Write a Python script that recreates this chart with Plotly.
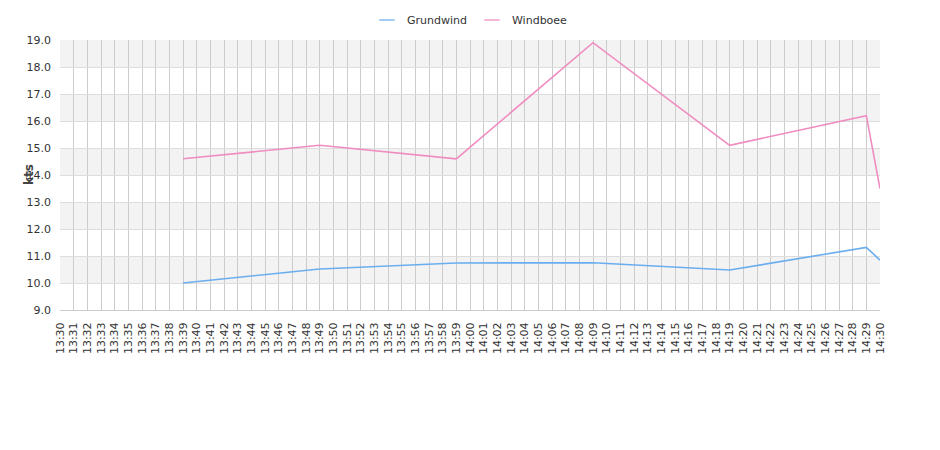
import plotly.graph_objects as go

times = ["13:39", "13:49", "13:59", "14:09", "14:19", "14:29", "14:30"]
grundwind = [10.0, 10.52, 10.74, 10.75, 10.48, 11.32, 10.85]
windboee = [14.6, 15.1, 14.6, 18.9, 15.1, 16.2, 13.5]
y_ticks = [9, 10, 11, 12, 13, 14, 15, 16, 17, 18, 19]
band_starts = [10, 12, 14, 16, 18]

day = "2024-01-01 "
xs = [day + t for t in times]

series = [("Grundwind", grundwind, "#6aaef0", "#a3cdf6"),
          ("Windboee", windboee, "#f08cc0", "#f5b6d6")]

fig = go.Figure()
for name, vals, col, lcol in series:
    fig.add_trace(go.Scatter(x=xs, y=vals, mode="lines", name=name, showlegend=False,
                             line=dict(color=col, width=1.6)))
for name, vals, col, lcol in series:
    fig.add_trace(go.Scatter(x=[None], y=[None], mode="markers", name=name,
                             marker=dict(symbol="line-ew-open", size=11, color=lcol,
                                         line=dict(color=lcol, width=2))))

for b in band_starts:
    fig.add_shape(type="rect", xref="paper", yref="y", x0=0, x1=1, y0=b, y1=b + 1,
                  fillcolor="#f3f3f3", line=dict(width=0), layer="below")

fig.update_layout(
    width=940, height=450,
    margin=dict(l=52, r=68, t=32, b=148, autoexpand=False),
    paper_bgcolor="white", plot_bgcolor="white",
    font=dict(family="DejaVu Sans", size=11, color="#333"),
    legend=dict(orientation="h", x=0.5, xanchor="center", xref="paper",
                yref="container", y=1 - 12 / 450, yanchor="middle",
                font=dict(size=11, color="#333"), itemwidth=30),
    xaxis=dict(type="date", range=[day + "13:30", day + "14:30"], dtick=60000,
               tickformat="%H:%M", tickangle=-90, showgrid=True, gridcolor="#cccccc",
               gridwidth=1, showline=True, linecolor="#cccccc", zeroline=False,
               ticks="", ticklabelstandoff=7, tickfont=dict(size=11, color="#333")),
    yaxis=dict(range=[9, 19], tickvals=y_ticks, ticktext=[f"{v:.1f}" for v in y_ticks],
               showgrid=True, gridcolor="#dddddd", zeroline=False, showline=False,
               ticks="", ticklabelstandoff=8, tickfont=dict(size=11, color="#333")),
    annotations=[dict(text="<b>kts</b>", xref="paper", yref="paper", x=-31 / 820, y=0.5,
                      xanchor="center", yanchor="middle",
                      textangle=-90, showarrow=False, font=dict(size=12, color="#444"))],
)

fig.write_html("out.html")
